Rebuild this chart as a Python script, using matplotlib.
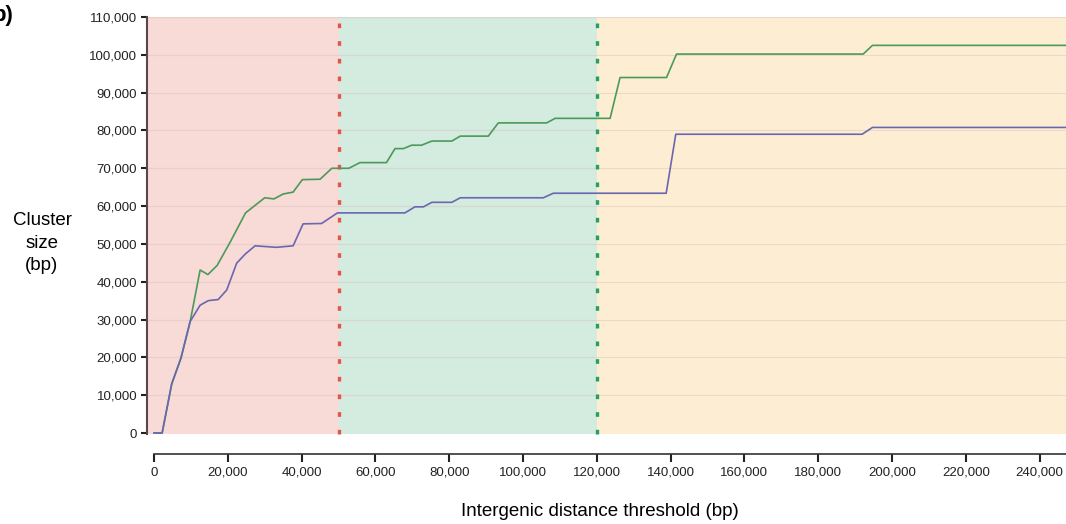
import matplotlib.pyplot as plt
from matplotlib.ticker import FuncFormatter

plt.rcParams['font.family'] = ['Liberation Sans', 'DejaVu Sans']

# Cluster size vs intergenic distance threshold
# Input data
dist_green = [0, 2200, 4800, 7300, 9800, 12500, 14600, 17100, 20600, 24800, 30000, 32500,
              35000, 37700, 40200, 45000, 48200, 52800, 55800, 63000, 65300, 67600, 69800,
              72500, 75300, 80700, 83000, 90600, 93300, 106400, 108700, 123600, 126300,
              138900, 141600, 192200, 194700, 247500]
size_green = [0, 0, 13000, 19800, 29500, 43100, 41900, 44300, 50400, 58200, 62200, 61900,
              63200, 63700, 67000, 67100, 70000, 70000, 71500, 71500, 75200, 75200, 76100,
              76100, 77200, 77200, 78500, 78500, 82000, 82000, 83200, 83200, 94000,
              94000, 100200, 100200, 102500, 102500]

dist_blue = [0, 2200, 4800, 7300, 9800, 12500, 14700, 17400, 19700, 22400, 24700, 27400,
             33200, 37700, 40400, 45400, 49700, 68000, 70700, 73000, 75300, 80700, 83000,
             105500, 108200, 138800, 141400, 191900, 194700, 247500]
size_blue = [0, 0, 13000, 19800, 29500, 33800, 35000, 35300, 37800, 44900, 47300, 49500,
             49100, 49500, 55300, 55400, 58200, 58200, 59800, 59800, 61000, 61000, 62200,
             62200, 63400, 63400, 79000, 79000, 80800, 80800]

thresholds = [50000, 120000]
x_min, x_max = -1900, 247150

fig = plt.figure(figsize=(10.66, 5.24), dpi=100)
ax = fig.add_axes([147 / 1066, 1 - 434 / 524, 1 - 147 / 1066, 417 / 524])

# shaded regions
ax.axvspan(x_min, thresholds[0], color='#f8dad6', lw=0, zorder=0)
ax.axvspan(thresholds[0], thresholds[1], color='#d4ebdf', lw=0, zorder=0)
ax.axvspan(thresholds[1], x_max, color='#fdeed3', lw=0, zorder=0)

for yv in range(10000, 110001, 10000):
    ax.axhline(yv, color='#d8c8c0', lw=0.8, alpha=0.55, zorder=1)

ax.axvline(thresholds[0], color='#e5534b', lw=2.4, ls=(0, (1.4, 3.9)), zorder=3, clip_on=False)
ax.axvline(thresholds[1], color='#23a06a', lw=2.4, ls=(0, (1.4, 3.9)), zorder=3, clip_on=False)

ax.plot(dist_green, size_green, color='#4b9a5a', lw=1.2, zorder=4)
ax.plot(dist_blue, size_blue, color='#6a66b0', lw=1.2, zorder=4)

ax.set_xlim(x_min, x_max)
ax.set_ylim(-260, 110000)

fmt = FuncFormatter(lambda v, p: f'{int(v):,}')
ax.set_yticks(range(0, 110001, 10000))
ax.set_xticks(range(0, 240001, 20000))
ax.yaxis.set_major_formatter(fmt)
ax.xaxis.set_major_formatter(fmt)

for s in ['top', 'right']:
    ax.spines[s].set_visible(False)
ax.spines['left'].set_color('#5a4848')
ax.spines['left'].set_linewidth(1.5)
ax.spines['bottom'].set_position(('outward', 14.4))
ax.spines['bottom'].set_bounds(0, x_max)
ax.spines['bottom'].set_color('#333333')
ax.spines['bottom'].set_linewidth(1.2)

ax.tick_params(axis='y', length=4, width=1.5, pad=3, labelsize=9.5, colors='#222222')
ax.tick_params(axis='x', length=6, width=1.5, pad=3, labelsize=9.5, colors='#222222')

fig.text(42 / 1066, 1 - 243 / 524, 'Cluster\nsize\n(bp)', ha='center', va='center',
         fontsize=13.5, linespacing=1.4)
fig.text(600 / 1066, 1 - 512 / 524, 'Intergenic distance threshold (bp)', ha='center',
         va='center', fontsize=13.5)
fig.text(-7 / 1066, 1 - 15 / 524, 'b)', ha='left', va='center', fontsize=16, fontweight='bold')

fig.savefig('out.png', dpi=100)
